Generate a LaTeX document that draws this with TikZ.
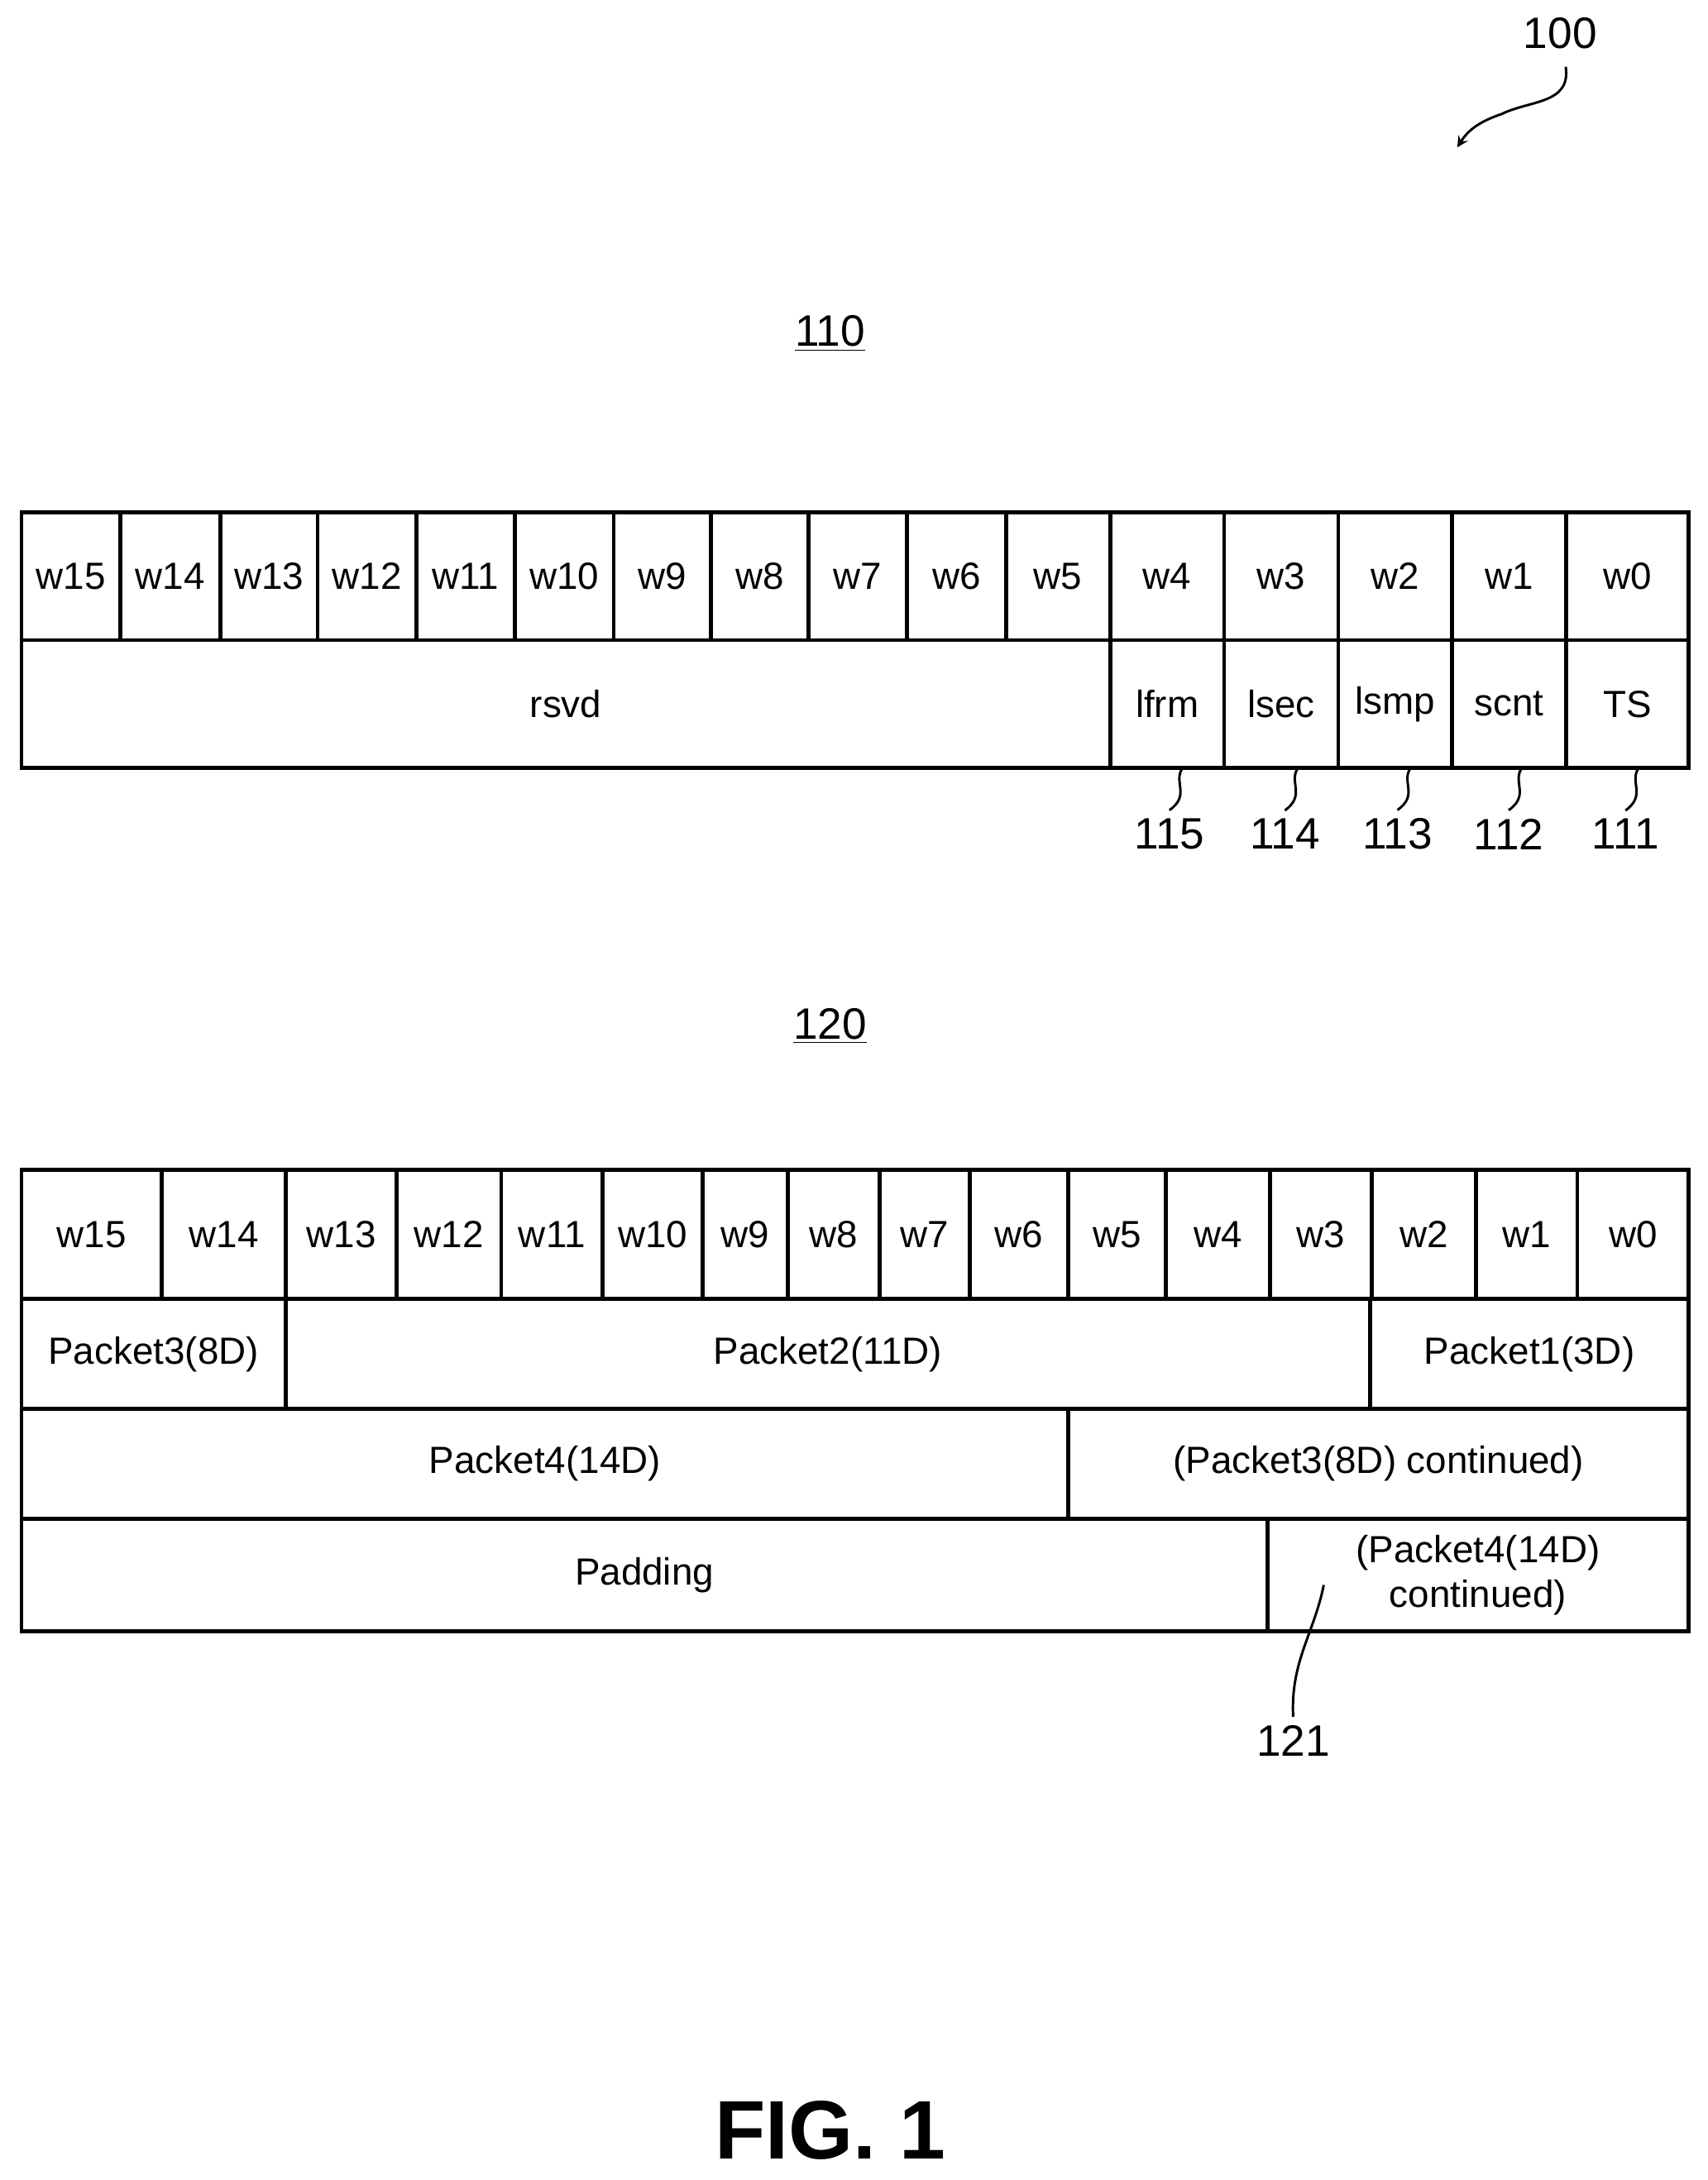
\documentclass[tikz,border=0pt]{standalone}
\usepackage{fontspec}
\setmainfont{Liberation Sans}
\tikzset{
  cell/.style={draw, line width=1.6pt, inner sep=0pt, anchor=north west,
    align=center, font=\fontsize{15.5}{18}\selectfont},
  ref/.style={font=\fontsize{18}{21}\selectfont},
  lead/.style={line width=1pt}
}
\begin{document}
\begin{tikzpicture}[x=0.02cm, y=-0.02cm]
\useasboundingbox (0,0) rectangle (1228,1568);
% figure number
\node[ref] (n100) at (1122,24) {100};
\coordinate (a100) at (1048,106);
\draw[lead, -stealth] (1126,48) .. controls (1130,75) and (1100,72) .. (1080,82)
  .. controls (1062,88) and (1055,95) .. (a100);
% block 110
\node[ref] (t110) at (597,240) {\underline{110}};
\foreach \a/\b/\t in {14/85/w15,85/157/w14,157/227/w13,227/298/w12,298/369/w11,
  369/440/w10,440/510/w9,510/580/w8,580/651/w7,651/722/w6,722/797/w5,797/879/w4,
  879/961/w3,961/1043/w2,1043/1125/w1,1125/1213/w0}
  \node[cell, minimum width={(\b-\a)*0.02cm}, minimum height=1.84cm]
    (h1-\t) at (\a,367) {\t};
\foreach \a/\b/\t/\n in {14/797/rsvd/rsvd,797/879/lfrm/lfrm,879/961/lsec/lsec,
  961/1043/lsmp/lsmp,1043/1125/scnt/scnt,1125/1213/TS/ts}
  \node[cell, minimum width={(\b-\a)*0.02cm}, minimum height=1.84cm]
    (f1-\n) at (\a,459) {\t};
\foreach \n/\x/\r in {lfrm/850/115,lsec/933/114,lsmp/1014/113,scnt/1094/112,ts/1178/111}{
  \node[ref] (r\r) at (\x-9,600) {\r};
  \draw[lead] (\x,553) .. controls (\x-6,563) and (\x+6,572) .. (r\r.north);
}
% block 120
\node[ref] (t120) at (597,738) {\underline{120}};
\foreach \a/\b/\t in {14/115/w15,115/204/w14,204/284/w13,284/359/w12,359/432/w11,
  432/504/w10,504/565/w9,565/631/w8,631/696/w7,696/767/w6,767/837/w5,837/912/w4,
  912/985/w3,985/1060/w2,1060/1133/w1,1133/1213/w0}
  \node[cell, minimum width={(\b-\a)*0.02cm}, minimum height=1.86cm]
    (h2-\t) at (\a,840) {\t};
\foreach \a/\b/\y/\h/\t/\n in {14/204/933/79/Packet3(8D)/p3,204/984/933/79/Packet2(11D)/p2,
  984/1213/933/79/Packet1(3D)/p1,14/767/1012/79/Packet4(14D)/p4,
  767/1213/1012/79/(Packet3(8D) continued)/p3c,14/910/1091/81/Padding/pad,
  910/1213/1091/81/{(Packet4(14D)\\continued)}/p4c}
  \node[cell, minimum width={(\b-\a)*0.02cm}, minimum height={\h*0.02cm}]
    (r2-\n) at (\a,\y) {\t};
\node[ref] (r121) at (930,1252) {121};
\coordinate (c121) at (952,1140);
\draw[lead] (c121) .. controls (945,1175) and (928,1195) .. (r121.north);
% caption
\node[font=\bfseries\fontsize{34}{40}\selectfont] (fig) at (597,1532) {FIG. 1};
\end{tikzpicture}
\end{document}
